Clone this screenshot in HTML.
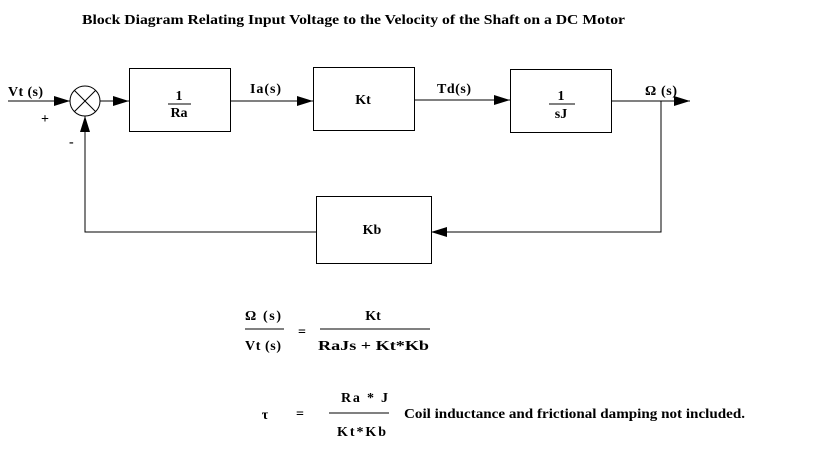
<!DOCTYPE html>
<html><head><style>body{margin:0;background:#fff}svg{display:block}text{font-family:"Liberation Serif",serif;font-weight:bold;font-size:14px;fill:#000}</style></head><body>
<svg width="813" height="464" xmlns="http://www.w3.org/2000/svg">
<defs><marker id="a" markerWidth="16" markerHeight="10" refX="16" refY="5" orient="auto" markerUnits="userSpaceOnUse"><path d="M0,0 L16,5 L0,10 Z" fill="#000"/></marker></defs>
<text x="82" y="24" textLength="543" lengthAdjust="spacingAndGlyphs">Block Diagram Relating Input Voltage to the Velocity of the Shaft on a DC Motor</text>
<g stroke="#000" stroke-width="1" fill="none">
<line x1="8" y1="101" x2="70" y2="101" marker-end="url(#a)"/>
<circle cx="85" cy="101" r="15"/>
<line x1="74.4" y1="90.4" x2="95.6" y2="111.6"/><line x1="95.6" y1="90.4" x2="74.4" y2="111.6"/>
<line x1="100" y1="101" x2="129" y2="101" marker-end="url(#a)"/>
<rect x="129.5" y="68.5" width="101" height="63"/>
<line x1="231" y1="101" x2="313" y2="101" marker-end="url(#a)"/>
<rect x="313.5" y="67.5" width="101" height="63"/>
<line x1="415" y1="100" x2="510" y2="100" marker-end="url(#a)"/>
<rect x="510.5" y="69.5" width="101" height="63"/>
<line x1="612" y1="101" x2="690" y2="101" marker-end="url(#a)"/>
<polyline points="661,101 661,232 431,232" marker-end="url(#a)"/>
<rect x="316.5" y="196.5" width="115" height="67"/>
<polyline points="316,232 85,232 85,116" marker-end="url(#a)"/>
<line x1="168" y1="104" x2="191" y2="104"/>
<line x1="549" y1="104" x2="575" y2="104"/>
<line x1="245" y1="329" x2="284" y2="329"/>
<line x1="320" y1="329" x2="430" y2="329"/>
<line x1="329" y1="413" x2="389" y2="413"/>
</g>
<text x="8" y="96" textLength="35">Vt (s)</text>
<text x="41" y="123" font-weight="normal">+</text>
<text x="69" y="146" font-weight="normal">-</text>
<text x="179" y="100" text-anchor="middle">1</text>
<text x="179" y="117" text-anchor="middle">Ra</text>
<text x="250" y="93" textLength="31">Ia(s)</text>
<text x="363" y="104" text-anchor="middle">Kt</text>
<text x="437" y="93" textLength="34">Td(s)</text>
<text x="561" y="100" text-anchor="middle">1</text>
<text x="561" y="118" text-anchor="middle">sJ</text>
<text x="645" y="95" textLength="32">Ω (s)</text>
<text x="372" y="234" text-anchor="middle">Kb</text>
<text x="245" y="320" textLength="36">Ω (s)</text>
<text x="245" y="350" textLength="36">Vt (s)</text>
<text x="302" y="336" text-anchor="middle">=</text>
<text x="373" y="320" text-anchor="middle">Kt</text>
<text x="318" y="350" textLength="111" lengthAdjust="spacingAndGlyphs">RaJs  +  Kt*Kb</text>
<text x="265" y="419" text-anchor="middle" font-weight="normal" font-size="22">τ</text>
<text x="300" y="418" text-anchor="middle">=</text>
<text x="341" y="402" textLength="47">Ra * J</text>
<text x="337" y="436" textLength="49">Kt*Kb</text>
<text x="404" y="418" textLength="341" lengthAdjust="spacingAndGlyphs">Coil inductance and frictional damping not included.</text>
</svg>
</body></html>
